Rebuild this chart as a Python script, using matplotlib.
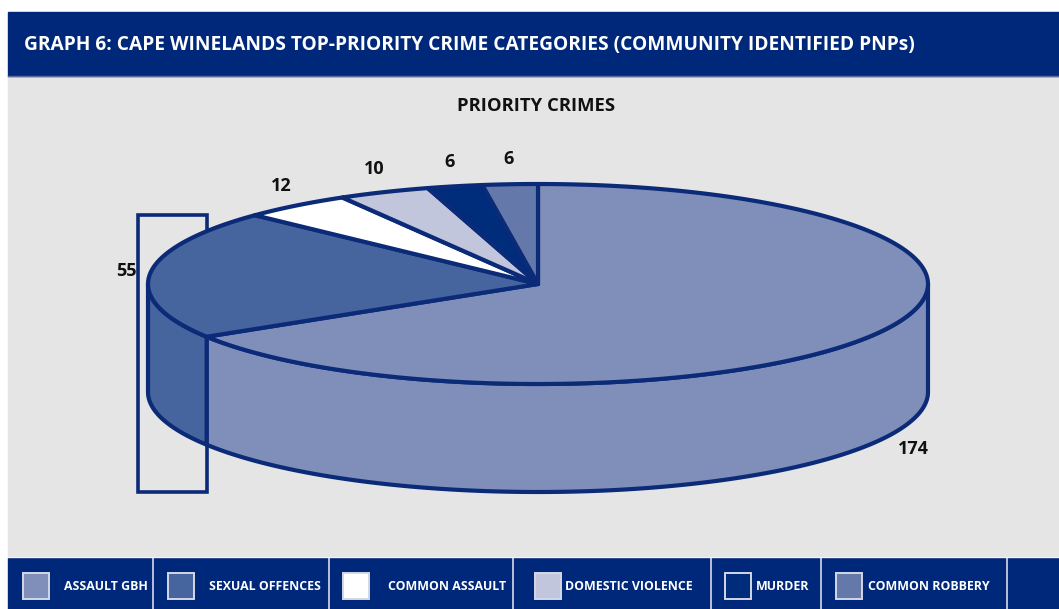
import numpy as np
import matplotlib.pyplot as plt
from matplotlib.patches import Rectangle, Polygon

# priority crimes, listed clockwise from 12 o'clock
categories = ['ASSAULT GBH', 'SEXUAL OFFENCES', 'COMMON ASSAULT',
              'DOMESTIC VIOLENCE', 'MURDER', 'COMMON ROBBERY']
counts = [174, 55, 12, 10, 6, 6]
colours = ['#7f8fb9', '#46649d', '#ffffff', '#c1c6dc', '#002c7c', '#6479a9']

title = 'GRAPH 6: CAPE WINELANDS TOP-PRIORITY CRIME CATEGORIES (COMMUNITY IDENTIFIED PNPs)'
subtitle = 'PRIORITY CRIMES'

navy = '#00287a'
edge = '#0b2a78'
grey = '#e5e5e5'
font = 'Open Sans'

W, H = 1059, 609
fig = plt.figure(figsize=(W / 100, H / 100), dpi=100)
ax = fig.add_axes([0, 0, 1, 1])
ax.set_xlim(0, W)
ax.set_ylim(H, 0)
ax.axis('off')

# panel background, header and legend strip
ax.add_patch(Rectangle((8, 76), W - 8, 481, color=grey, zorder=0))
ax.add_patch(Rectangle((8, 12), W - 8, 64, color=navy, zorder=1))
ax.plot([8, W], [76, 76], color='#5a6b9c', lw=1, zorder=1)
ax.add_patch(Rectangle((8, 558), W - 8, 51, color=navy, zorder=1))
ax.text(24, 45, title, color='white', fontsize=13.8, fontweight='bold',
        family=font, va='center', ha='left', zorder=2)
ax.text(536, 106, subtitle, color='#111111', fontsize=13.3, fontweight='bold',
        family=font, va='center', ha='center', zorder=2)

# 3D pie geometry
cx, cy, rx, ry, depth = 538, 284, 390, 100, 108


def arc(t0, t1, dy=0, n=200):
    t = np.radians(np.linspace(t0, t1, n))
    return np.column_stack([cx + rx * np.cos(t), cy - ry * np.sin(t) + dy])


total = sum(counts)
cum = np.concatenate([[0], np.cumsum(counts)]) / total * 360
starts = 90 - cum[1:]
ends = 90 - cum[:-1]

# selection frame behind the sexual offences wedge
bx = cx + rx * np.cos(np.radians(starts[0]))
ax.add_patch(Rectangle((cx - rx - 10, 215), bx - (cx - rx - 10), cy + ry + depth - 215,
                       fill=False, ec=edge, lw=2.6, zorder=2))

# front walls of the cylinder
for a1, a2, c in zip(starts, ends, colours):
    for k in (-1, 0, 1):
        lo = max(a1, -180 + 360 * k)
        hi = min(a2, 360 * k)
        if hi > lo:
            pts = np.vstack([arc(lo, hi), arc(hi, lo, depth)])
            ax.add_patch(Polygon(pts, closed=True, fc=c, ec=edge, lw=3,
                                 joinstyle='round', zorder=3))

# top face wedges
for a1, a2, c in zip(starts, ends, colours):
    pts = np.vstack([[cx, cy], arc(a1, a2)])
    ax.add_patch(Polygon(pts, closed=True, fc=c, ec=edge, lw=3,
                         joinstyle='round', zorder=4))

# value labels, just outside the rim
for a1, a2, v in zip(starts, ends, counts):
    m = np.radians((a1 + a2) / 2)
    fx = 1.06 if np.cos(m) < 0 else 1.1
    lx = cx + fx * rx * np.cos(m)
    ly = cy - 1.25 * ry * np.sin(m)
    if np.sin(m) < 0:
        ly += depth - 4
    ax.text(lx, ly, str(v), fontsize=13, fontweight='bold', family=font,
            color='#111111', ha='center', va='center', zorder=5)

# legend strip
seps = [153, 329, 513, 711, 821, 1007]
box_x = [23, 168, 343, 535, 725, 836]
text_x = [64, 209, 388, 565, 756, 868]
for s in seps:
    ax.plot([s, s], [558, H], color='#c9cde0', lw=1.3, zorder=2)
for bxl, tx, c, name in zip(box_x, text_x, colours, categories):
    ax.add_patch(Rectangle((bxl, 573), 26, 26, fc=c, ec='#d4d8e6', lw=1.4, zorder=3))
    ax.text(tx, 587, name, color='white', fontsize=8.9, fontweight='bold',
            family=font, ha='left', va='center', zorder=3)
ax.plot([8, W], [557, 557], color='#f4f4f4', lw=1, zorder=2)

fig.savefig('out.png', dpi=100, facecolor='white')
